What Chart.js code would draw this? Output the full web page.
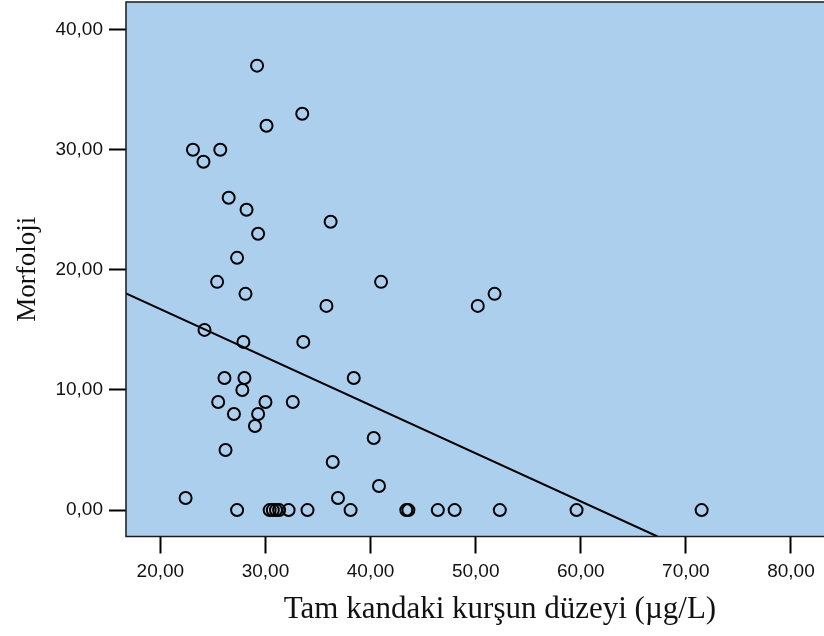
<!DOCTYPE html>
<html>
<head>
<meta charset="utf-8">
<script src="https://cdn.jsdelivr.net/npm/chart.js@4"></script>
<style>
  html, body { margin: 0; padding: 0; background: #fff; overflow: hidden; }
  #wrap { width: 824px; height: 636px; overflow: hidden; }
</style>
</head>
<body>
<div id="wrap"><canvas id="scatter" width="874" height="636"></canvas></div>
<script>
// Tam kandaki kurşun düzeyi (µg/L) vs Morfoloji
const leadX = [
  29.2, 33.5, 30.1, 23.1, 25.7, 24.1, 26.5, 28.2, 36.2, 29.3,
  27.3, 25.4, 41.0, 28.1, 51.8, 35.8, 50.2, 24.2, 27.9, 33.6,
  26.1, 28.0, 38.4, 27.8, 25.5, 30.0, 32.6, 27.0, 29.3, 29.0,
  40.3, 26.2, 36.4, 40.8, 22.4, 36.9,
  27.3, 30.4, 30.7, 31.0, 31.3, 32.2, 34.0, 38.1, 43.4, 43.6,
  46.4, 48.0, 52.3, 59.6, 71.5,
];
const morphY = [
  37, 33, 32, 30, 30, 29, 26, 25, 24, 23,
  21, 19, 19, 18, 18, 17, 17, 15, 14, 14,
  11, 11, 11, 10, 9, 9, 9, 8, 8, 7,
  6, 5, 4, 2, 1, 1,
  0, 0, 0, 0, 0, 0, 0, 0, 0, 0,
  0, 0, 0, 0, 0,
];

// fit line end points (where it leaves the plot)
const fitX = [16.73, 67.3];
const fitY = [18.04, -2.2];

const xTicks = [20, 30, 40, 50, 60, 70, 80];
const yTicks = [0, 10, 20, 30, 40];

const PLOT_BG = "#abcfed";
const fmt = v => v.toFixed(2).replace(".", ",");

const plotFrame = {
  id: "plotFrame",
  beforeDatasetsDraw(chart) {
    const { ctx, chartArea: a } = chart;
    ctx.save();
    ctx.fillStyle = PLOT_BG;
    ctx.fillRect(a.left, a.top, a.right - a.left, a.bottom - a.top);
    ctx.restore();
  },
  afterDatasetsDraw(chart) {
    const { ctx, chartArea: a } = chart;
    ctx.save();
    ctx.strokeStyle = "#1a1a1a";
    ctx.lineWidth = 1.5;
    ctx.strokeRect(a.left, a.top, a.right - a.left, a.bottom - a.top);
    ctx.restore();
  },
};

const tickGrid = {
  drawOnChartArea: false,
  drawTicks: true,
  tickLength: 17,
  tickWidth: 2,
  tickColor: "#000",
};

// no extra room for edge labels, the frame is placed by hand
const noPad = s => { s.paddingTop = s.paddingBottom = s.paddingLeft = s.paddingRight = 0; };

new Chart(document.getElementById("scatter"), {
  type: "scatter",
  data: {
    datasets: [
      {
        data: leadX.map((x, i) => ({ x, y: morphY[i] })),
        pointStyle: "circle",
        pointRadius: 6,
        borderWidth: 2,
        borderColor: "#000",
        backgroundColor: "rgba(0,0,0,0)",
      },
      {
        type: "line",
        data: fitX.map((x, i) => ({ x, y: fitY[i] })),
        borderColor: "#000",
        borderWidth: 2,
        pointRadius: 0,
        fill: false,
      },
    ],
  },
  options: {
    responsive: false,
    animation: false,
    layout: { autoPadding: false, padding: { top: 2, right: 0, left: 0, bottom: 0 } },
    plugins: { legend: { display: false }, tooltip: { enabled: false } },
    scales: {
      x: {
        type: "linear",
        min: 16.73,
        max: 87.9,
        afterFit: s => { s.height = 99.5; noPad(s); },
        afterBuildTicks: s => { s.ticks = xTicks.map(v => ({ value: v })); },
        grid: tickGrid,
        border: { display: false },
        ticks: {
          color: "#111",
          padding: 7,
          maxRotation: 0,
          font: { family: "'Liberation Sans', Arial, sans-serif", size: 19 },
          callback: v => fmt(v),
        },
        title: {
          display: true,
          text: "Tam kandaki kurşun düzeyi (µg/L)",
          color: "#111",
          padding: { top: 0, bottom: 8 },
          font: { family: "'Liberation Serif', 'Times New Roman', serif", size: 31 },
        },
      },
      y: {
        type: "linear",
        min: -2.2,
        max: 42.3,
        afterFit: s => { s.width = 126; noPad(s); },
        afterBuildTicks: s => { s.ticks = yTicks.map(v => ({ value: v })); },
        grid: tickGrid,
        border: { display: false },
        ticks: {
          color: "#111",
          padding: 6,
          font: { family: "'Liberation Sans', Arial, sans-serif", size: 19 },
          callback: v => fmt(v),
        },
        title: {
          display: true,
          text: "Morfoloji",
          color: "#111",
          padding: { top: 12, bottom: 0 },
          font: { family: "'Liberation Serif', 'Times New Roman', serif", size: 27 },
        },
      },
    },
  },
  plugins: [plotFrame],
});
</script>
</body>
</html>
